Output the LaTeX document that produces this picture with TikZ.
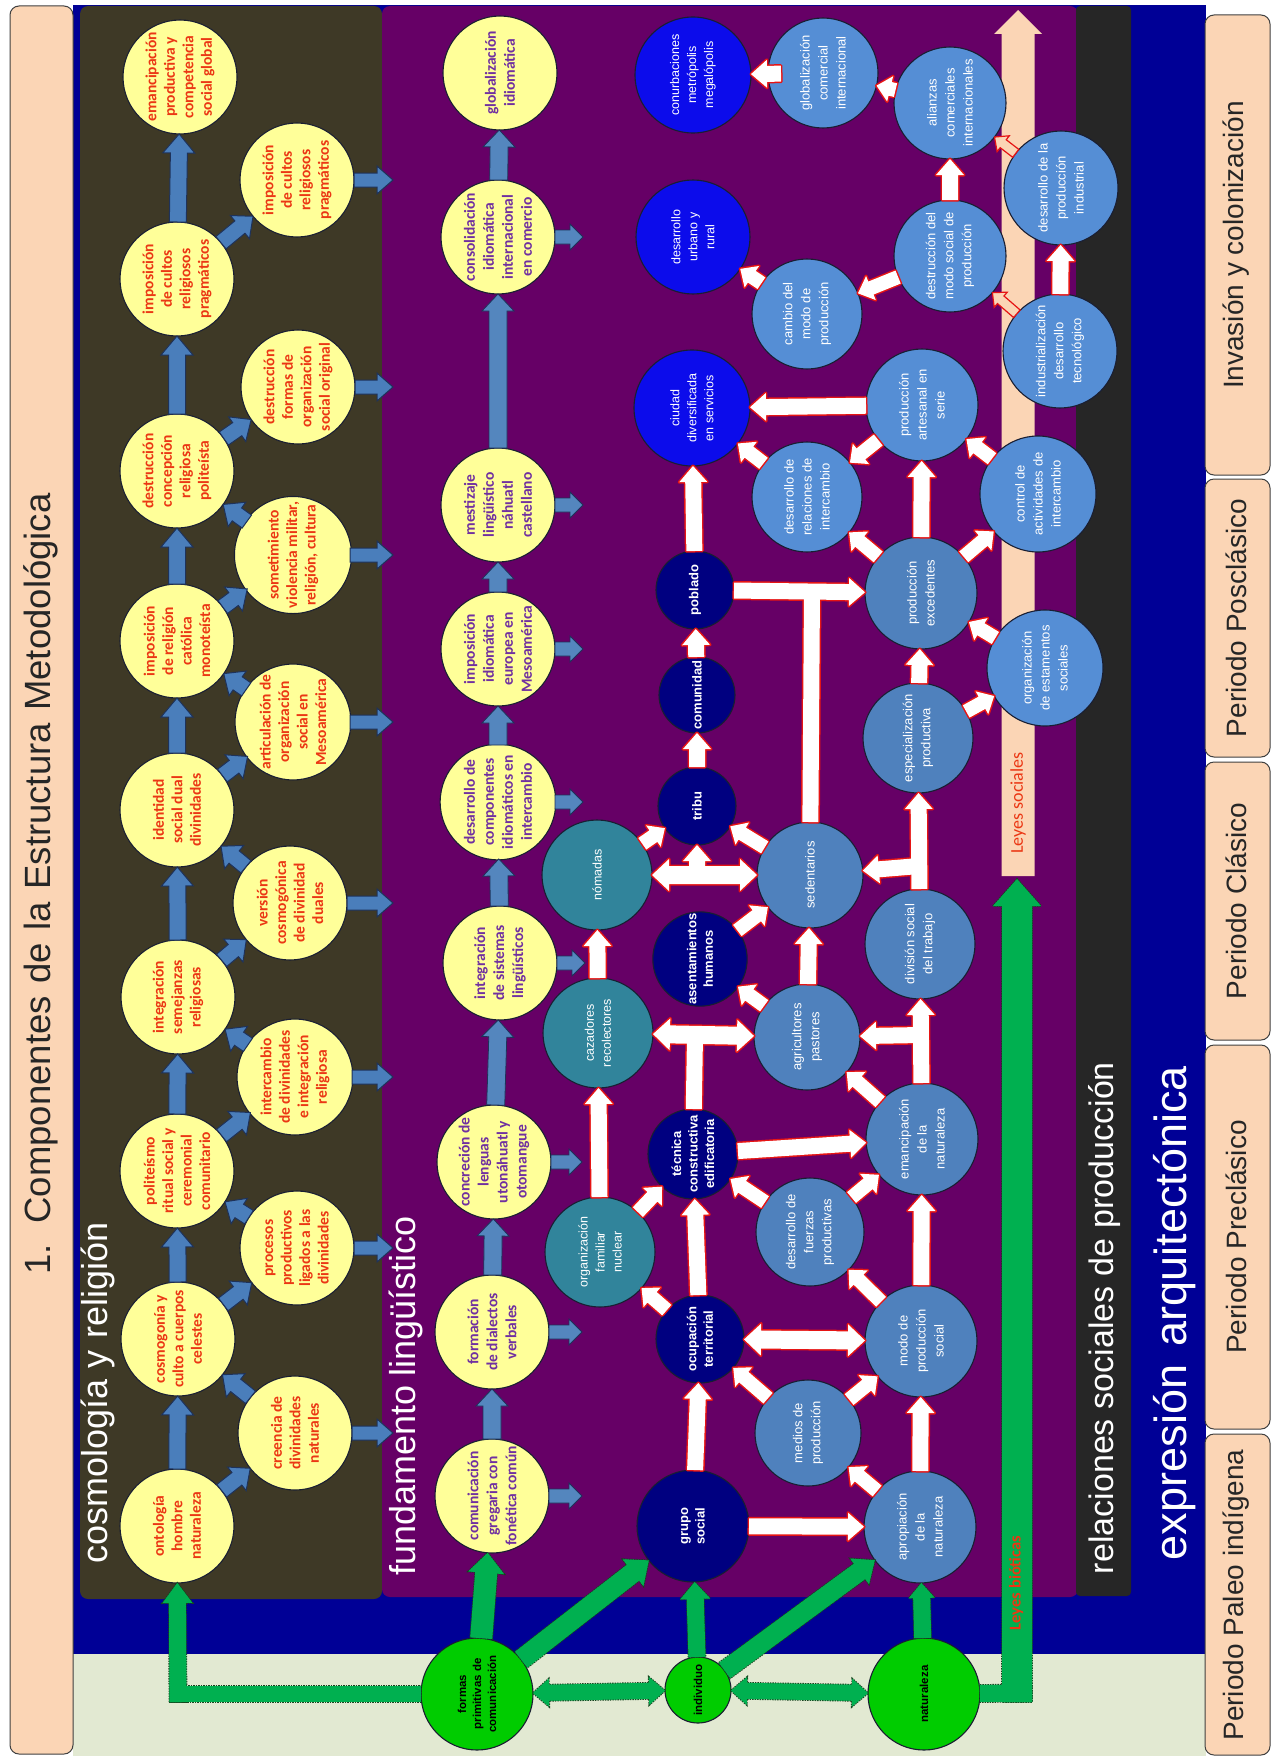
\documentclass[tikz,border=0pt]{standalone}
\usepackage{fontspec}
\setmainfont{Carlito}
\newfontfamily\arialf{Liberation Sans}
\usetikzlibrary{calc}
\definecolor{cOlive}{RGB}{62,57,38}
\definecolor{cPurple}{RGB}{102,0,102}
\definecolor{cNavyBg}{RGB}{0,0,150}
\definecolor{cGray}{RGB}{38,38,38}
\definecolor{cLight}{RGB}{226,233,210}
\definecolor{cPeach}{RGB}{251,213,181}
\definecolor{cYel}{RGB}{255,255,153}
\definecolor{cRedT}{RGB}{235,55,20}
\definecolor{cPurT}{RGB}{112,48,160}
\definecolor{cTeal}{RGB}{49,132,155}
\definecolor{cNavyC}{RGB}{0,0,128}
\definecolor{cBright}{RGB}{12,12,235}
\definecolor{cSteelA}{RGB}{79,129,189}
\definecolor{cSteelB}{RGB}{85,142,213}
\definecolor{cGreenC}{RGB}{0,204,0}
\definecolor{cGreenA}{RGB}{0,176,80}
\definecolor{cGreenD}{RGB}{20,70,30}
\definecolor{cBlueA}{RGB}{74,126,187}
\definecolor{cBlueD}{RGB}{30,50,90}
\definecolor{cLingA}{RGB}{84,134,190}
\definecolor{cWRed}{RGB}{230,20,20}
\definecolor{cOut}{RGB}{25,30,50}

\newcommand\SZ[3]{\def\BW{#1}\def\HW{#2}\def\HL{#3}}
\newcommand\blk[3][]{%
 \coordinate (ba) at #2; \coordinate (bb) at #3;
 \coordinate (bq) at ($(bb)!\HL pt!(ba)$);
 \path[#1] ($(ba)!\BW pt!90:(bb)$) -- ($(bq)!\BW pt!90:(bb)$) -- ($(bq)!\HW pt!90:(bb)$) -- (bb) -- ($(bq)!\HW pt!-90:(bb)$) -- ($(bq)!\BW pt!-90:(bb)$) -- ($(ba)!\BW pt!-90:(bb)$) -- cycle;}
\newcommand\blkd[3][]{%
 \coordinate (ba) at #2; \coordinate (bb) at #3;
 \coordinate (bq) at ($(bb)!\HL pt!(ba)$);
 \coordinate (bp) at ($(ba)!\HL pt!(bb)$);
 \path[#1] (ba) -- ($(bp)!\HW pt!90:(bb)$) -- ($(bp)!\BW pt!90:(bb)$) -- ($(bq)!\BW pt!90:(bb)$) -- ($(bq)!\HW pt!90:(bb)$) -- (bb) -- ($(bq)!\HW pt!-90:(bb)$) -- ($(bq)!\BW pt!-90:(bb)$) -- ($(bp)!\BW pt!-90:(bb)$) -- ($(bp)!\HW pt!-90:(bb)$) -- cycle;}
\newcommand\stem[3][]{%
 \coordinate (ba) at #2; \coordinate (bb) at #3;
 \path[#1] ($(ba)!\BW pt!90:(bb)$) -- ($(bb)!\BW pt!-90:(ba)$) -- ($(bb)!\BW pt!90:(ba)$) -- ($(ba)!\BW pt!-90:(bb)$) -- cycle;}
\newcommand\arr[3][]{\edef\rA{\csname R@#2\endcsname}\edef\rB{\csname R@#3\endcsname}%
 \blk[#1]{($(#2)!\rA pt!(#3)$)}{($(#3)!\rB pt!(#2)$)}}
\newcommand\arrd[3][]{\edef\rA{\csname R@#2\endcsname}\edef\rB{\csname R@#3\endcsname}%
 \blkd[#1]{($(#2)!\rA pt!(#3)$)}{($(#3)!\rB pt!(#2)$)}}
\newcommand\stub[3][]{\edef\rA{\csname R@#2\endcsname}%
 \blk[#1]{($(#2)!\rA pt!(#3)$)}{(#3)}}
\newcommand\circnode[6]{\expandafter\gdef\csname R@#1\endcsname{#4}%
 \node[#5, minimum size=#4pt*2] (#1) at (#2,#3) {#6};}

\tikzset{
 circ/.style={circle, inner sep=0pt, rotate=90, align=center, draw=cOut, line width=1.1pt},
 yc/.style={circ, fill=cYel, text=cRedT, font=\bfseries\fontsize{15.5}{18.5}\selectfont},
 yl/.style={circ, fill=cYel, text=cPurT, font=\bfseries\fontsize{15.5}{19}\selectfont},
 nv/.style={circ, fill=cNavyC, text=white, font=\arialf\bfseries\fontsize{13}{16.5}\selectfont},
 tl/.style={circ, fill=cTeal, text=white, font=\arialf\fontsize{12.5}{17}\selectfont},
 bb/.style={circ, fill=cBright, text=white, font=\arialf\fontsize{12.5}{17}\selectfont},
 sa/.style={circ, fill=cSteelA, text=white, font=\arialf\fontsize{13}{18}\selectfont},
 sb/.style={circ, fill=cSteelB, text=white, font=\arialf\fontsize{13}{18}\selectfont},
 gc/.style={circ, fill=cGreenC, text=black, font=\arialf\bfseries\fontsize{11.5}{15}\selectfont},
 bl/.style={fill=cBlueA, draw=cBlueD, line width=1pt},
 blg/.style={fill=cLingA, draw=cBlueD, line width=0.8pt},
 wout/.style={fill=cWRed, draw=cWRed, line width=3pt, line join=round},
 win/.style={fill=white},
 gout/.style={fill=cGreenA, draw=cGreenD, line width=1.8pt, dash pattern=on 1.5pt off 1pt},
 gin/.style={fill=cGreenA},
 lbl/.style={rotate=90, inner sep=0pt},
 pbox/.style={fill=cPeach, draw=black!75, line width=1pt, rounded corners=9pt},
}

\newcommand\whites[1]{%
\SZ{8}{14}{16}%
\arr[#1]{grupo}{ocupacion}%
\arr[#1]{ocupacion}{tecnica}%
\arr[#1]{orgfam}{cazadores}%
\arr[#1]{cazadores}{nomadas}%
\arr[#1]{agric}{sedent}%
\arr[#1]{tribu}{comunidad}%
\arr[#1]{comunidad}{poblado}%
\arr[#1]{poblado}{ciudad}%
\arr[#1]{apropia}{modo}%
\arr[#1]{modo}{emancip}%
\arr[#1]{emancip}{division}%
\arr[#1]{division}{especial}%
\arr[#1]{especial}{excedentes}%
\arr[#1]{excedentes}{artesanal}%
\arr[#1]{destruccion}{alianzas}%
\arr[#1]{industrializ}{desind}%
\arr[#1]{grupo}{apropia}%
\arr[#1]{tecnica}{emancip}%
\arr[#1]{artesanal}{ciudad}%
\arr[#1]{poblado}{excedentes}%
\blk[#1]{($(globcom)!42pt!(conurb)$)}{($(conurb)!58pt!(globcom)$)}%
\blk[#1]{(t2)}{($(tribu)!39pt!(t2)$)}%
\blk[#1]{(t4)}{($(agric)!53pt!(t4)$)}%
\blk[#1]{(t5)}{($(sedent)!53pt!(t5)$)}%
\stem[#1]{($(tecnica)!45pt!(t1)$)}{(t1)}%
\stem[#1]{($(sedent)!53pt!(t3)$)}{(t3)}%
\SZ{9}{16}{17}%
\arrd[#1]{ocupacion}{modo}%
\arrd[#1]{cazadores}{agric}%
\arrd[#1]{nomadas}{sedent}%
\SZ{7}{13}{14}%
\arr[#1]{ocupacion}{orgfam}%
\arr[#1]{medios}{ocupacion}%
\arr[#1]{medios}{modo}%
\arr[#1]{apropia}{medios}%
\arr[#1]{modo}{fuerzas}%
\arr[#1]{fuerzas}{tecnica}%
\arr[#1]{fuerzas}{emancip}%
\arr[#1]{orgfam}{tecnica}%
\arr[#1]{nomadas}{tribu}%
\arr[#1]{sedent}{tribu}%
\arr[#1]{agric}{asent}%
\arr[#1]{asent}{sedent}%
\arr[#1]{emancip}{agric}%
\arr[#1]{especial}{organiz}%
\arr[#1]{organiz}{excedentes}%
\arr[#1]{excedentes}{desrel}%
\arr[#1]{excedentes}{control}%
\arr[#1]{control}{artesanal}%
\arr[#1]{artesanal}{desrel}%
\arr[#1]{desrel}{ciudad}%
\arr[#1]{destruccion}{cambio}%
\arr[#1]{cambio}{urbano}%
\arr[#1]{alianzas}{globcom}%
}

\newcommand\greens[1]{%
\SZ{11}{18}{20}\arr[#1]{formas}{l1}%
\SZ{10}{17}{20}\arr[#1]{formas}{grupo}%
\SZ{8.5}{15}{17}\arr[#1]{individuo}{grupo}%
\SZ{9.5}{16}{19}\arr[#1]{individuo}{apropia}%
\SZ{8.5}{13}{15}\arr[#1]{naturaleza}{apropia}%
\SZ{8}{14}{16}\arrd[#1]{individuo}{formas}\arrd[#1]{individuo}{naturaleza}%
\SZ{8}{14}{16}\stem[#1]{($(formas)!56pt!(gL1)$)}{(gL1)}%
\SZ{8.5}{15}{20}\blk[#1]{(gL2)}{($(c1)!57pt!(gL2)$)}%
\SZ{8.5}{1}{1}\stem[#1]{($(naturaleza)!56pt!(gL3)$)}{(gL3)}%
\SZ{15}{24}{27}\blk[#1]{(gL4)}{(gL5)}%
}

\begin{document}
\begin{tikzpicture}[x=1pt,y=-1pt]
\useasboundingbox (0,0) rectangle (1272,1758);
\fill[white] (0,0) rectangle (1272,1758);
% background bands
\fill[cLight] (73,1600) rectangle (1206,1756);
\fill[cNavyBg] (73,5) rectangle (1206,1654);
\fill[cOlive, rounded corners=8pt] (80,6) rectangle (382,1599);
\fill[cPurple, rounded corners=8pt] (382,6) rectangle (1078,1597);
\fill[cGray, rounded corners=4pt] (1076,6) rectangle (1131,1596);
% title and period boxes
\draw[pbox] (10,6) rectangle (73,1754);
\draw[pbox] (1205,15) rectangle (1270,475);
\draw[pbox] (1205,479) rectangle (1270,757);
\draw[pbox] (1205,762) rectangle (1270,1040);
\draw[pbox] (1205,1045) rectangle (1270,1429);
\draw[pbox] (1205,1434) rectangle (1270,1755);
\node[lbl, text=black!85, font=\arialf\fontsize{36.5}{36.5}\selectfont] (title) at (41,884) {\makebox[781pt][s]{1. Componentes de la Estructura Metodológica}};
\node[lbl, text=black!85, font=\arialf\fontsize{28}{28}\selectfont] (p1) at (1236,245) {Invasión y colonización};
\node[lbl, text=black!85, font=\arialf\fontsize{28}{28}\selectfont] (p2) at (1236,618) {Periodo Posclásico};
\node[lbl, text=black!85, font=\arialf\fontsize{28}{28}\selectfont] (p3) at (1236,901) {Periodo Clásico};
\node[lbl, text=black!85, font=\arialf\fontsize{28}{28}\selectfont] (p4) at (1236,1237) {Periodo Preclásico};
\node[lbl, text=black!85, font=\arialf\fontsize{28}{28}\selectfont] (p5) at (1236,1595) {Periodo Paleo indígena};
\node[lbl, text=white, font=\arialf\fontsize{36}{36}\selectfont] (lcos) at (98,1393) {\makebox[341pt][s]{cosmología y religión}};
\node[lbl, text=white, font=\arialf\fontsize{36}{36}\selectfont] (lfun) at (406,1396) {\makebox[359pt][s]{fundamento lingüístico}};
\node[lbl, text=white, font=\arialf\fontsize{34}{34}\selectfont] (lrel) at (1104,1318) {\makebox[512pt][s]{relaciones sociales de producción}};
\node[lbl, text=white, font=\arialf\fontsize{45}{45}\selectfont] (lexp) at (1175,1313) {\makebox[494pt][s]{expresión arquitectónica}};
% Leyes sociales bar
\coordinate (ls1) at (1018,876); \coordinate (ls2) at (1018,10);
\SZ{16.5}{24}{24}\blk[fill=cPeach]{(ls1)}{(ls2)}
\node[lbl, text=cRedT, font=\fontsize{18}{18}\selectfont] (tls) at (1018,803) {Leyes sociales};

% cosmology circles
\circnode{c1}{177}{1526}{57}{yc}{ontología\\hombre\\naturaleza}
\circnode{c2}{178}{1339}{57}{yc}{cosmogonía y\\culto a cuerpos\\celestes}
\circnode{c3}{177}{1171}{57}{yc}{politeísmo\\ritual social y\\ceremonial\\comunitario}
\circnode{c4}{178}{997}{57}{yc}{integración\\semejanzas\\religiosas}
\circnode{c5}{177}{810}{57}{yc}{identidad\\social dual\\divinidades}
\circnode{c6}{177}{641}{57}{yc}{imposición\\de religión\\católica\\monoteísta}
\circnode{c7}{177}{471}{57}{yc}{destrucción\\concepción\\religiosa\\politeísta}
\circnode{c8}{177}{279}{57}{yc}{imposición\\de cultos\\religiosos\\pragmáticos}
\circnode{c9}{180}{77}{57}{yc}{emancipación\\productiva y\\competencia\\social global}
\circnode{d1}{295}{1433}{57}{yc}{creencia de\\divinidades\\naturales}
\circnode{d2}{297}{1248}{57}{yc}{procesos\\productivos\\ligados a las\\divinidades}
\circnode{d3}{295}{1077}{57}{yc}{intercambio\\de divinidades\\e integración\\religiosa}
\circnode{d4}{290}{903}{57}{yc}{versión\\cosmogónica\\de divinidad\\duales}
\circnode{d5}{293}{722}{57}{yc}{articulación de\\organización\\social en\\Mesoamérica}
\circnode{d6}{293}{555}{57}{yc}{sometimiento\\violencia militar,\\religión, cultura}
\circnode{d7}{298}{387}{57}{yc}{destrucción\\formas de\\organización\\social original}
\circnode{d8}{297}{180}{57}{yc}{imposición\\de cultos\\religiosos\\pragmáticos}
% linguistic circles
\circnode{l1}{492}{1496}{57}{yl}{comunicación\\gregaria con\\fonética común}
\circnode{l2}{492}{1332}{57}{yl}{formación\\de dialectos\\verbales}
\circnode{l3}{494}{1162}{57}{yl}{concreción de\\lenguas\\utonáhuatl y\\otomangue}
\circnode{l4}{500}{963}{57}{yl}{integración\\de sistemas\\lingüísticos}
\circnode{l5}{498}{802}{57}{yl}{desarrollo de\\componentes\\idiomáticos en\\intercambio}
\circnode{l6}{498}{649}{57}{yl}{imposición\\idiomática\\europea en\\Mesoamérica}
\circnode{l7}{498}{505}{57}{yl}{mestizaje\\lingüístico\\náhuatl\\castellano}
\circnode{l8}{498}{237}{57}{yl}{consolidación\\idiomática\\internacional\\en comercio}
\circnode{l9}{500}{73}{57}{yl}{globalización\\idiomática}
% relations circles
\circnode{grupo}{693}{1526}{56}{nv}{grupo\\social}
\circnode{ocupacion}{700}{1339}{44}{nv}{ocupación\\territorial}
\circnode{tecnica}{693}{1154}{45}{nv}{técnica\\constructiva\\edificatoria}
\circnode{asent}{700}{959}{47}{nv}{asentamientos\\humanos}
\circnode{tribu}{697}{806}{39}{nv}{tribu}
\circnode{comunidad}{697}{695}{38}{nv}{comunidad}
\circnode{poblado}{695}{590}{39}{nv}{poblado}
\circnode{orgfam}{600}{1252}{55}{tl}{organización\\familiar\\nuclear}
\circnode{cazadores}{598}{1033}{55}{tl}{cazadores\\recolectores}
\circnode{nomadas}{597}{875}{55}{tl}{nómadas}
\circnode{ciudad}{692}{408}{58}{bb}{ciudad\\diversificada\\en servicios}
\circnode{urbano}{693}{237}{57}{bb}{desarrollo\\urbano y\\rural}
\circnode{conurb}{693}{75}{58}{bb}{conurbaciones\\metrópolis\\megalópolis}
\circnode{medios}{808}{1433}{53}{sa}{medios de\\producción}
\circnode{fuerzas}{810}{1232}{54}{sa}{desarrollo de\\fuerzas\\productivas}
\circnode{agric}{807}{1037}{53}{sa}{agricultores\\pastores}
\circnode{sedent}{810}{875}{53}{sa}{sedentarios}
\circnode{apropia}{920}{1527}{56}{sa}{apropiación\\de la\\naturaleza}
\circnode{modo}{921}{1341}{56}{sa}{modo de\\producción\\social}
\circnode{emancip}{922}{1139}{56}{sa}{emancipación\\de la\\naturaleza}
\circnode{division}{920}{944}{55}{sa}{división social\\del trabajo}
\circnode{especial}{918}{738}{55}{sa}{especialización\\productiva}
\circnode{excedentes}{921}{593}{56}{sa}{producción\\excedentes}
\circnode{desrel}{807}{497}{55}{sb}{desarrollo de\\relaciones de\\intercambio}
\circnode{cambio}{807}{314}{55}{sb}{cambio del\\modo de\\producción}
\circnode{globcom}{823}{73}{55}{sb}{globalización\\comercial\\internacional}
\circnode{artesanal}{922}{405}{56}{sb}{producción\\artesanal en\\serie}
\circnode{destruccion}{950}{256}{56}{sb}{destrucción del\\modo social de\\producción}
\circnode{alianzas}{950}{103}{56}{sb}{alianzas\\comerciales\\internacionales}
\circnode{organiz}{1045}{668}{58}{sb}{organización\\de estamentos\\sociales}
\circnode{control}{1038}{494}{58}{sb}{control de\\actividades de\\intercambio}
\circnode{industrializ}{1060}{351}{57}{sb}{industrialización\\desarrollo\\tecnológico}
\circnode{desind}{1061}{188}{57}{sb}{desarrollo de la\\producción\\industrial}
\circnode{formas}{477}{1694}{56}{gc}{formas\\primitivas de\\comunicación}
\circnode{individuo}{698}{1690}{33}{gc}{individuo}
\circnode{naturaleza}{924}{1694}{56}{gc}{naturaleza}

% cosmology arrows
\SZ{8.5}{16}{19}
\arr[bl]{c1}{c2}\arr[bl]{c2}{c3}\arr[bl]{c3}{c4}\arr[bl]{c4}{c5}
\arr[bl]{c5}{c6}\arr[bl]{c6}{c7}\arr[bl]{c7}{c8}\arr[bl]{c8}{c9}
\SZ{8}{15}{17}
\arr[bl]{c1}{d1}\arr[bl]{d1}{c2}\arr[bl]{c2}{d2}\arr[bl]{d2}{c3}
\arr[bl]{c3}{d3}\arr[bl]{d3}{c4}\arr[bl]{c4}{d4}\arr[bl]{d4}{c5}
\arr[bl]{c5}{d5}\arr[bl]{d5}{c6}\arr[bl]{c6}{d6}\arr[bl]{d6}{c7}
\arr[bl]{c7}{d7}\arr[bl]{c8}{d8}
\coordinate (s1) at (393,1433); \coordinate (s2) at (393,1248);
\coordinate (s3) at (393,1077); \coordinate (s4) at (393,903);
\coordinate (s5) at (393,722); \coordinate (s6) at (393,555);
\coordinate (s7) at (393,387); \coordinate (s8) at (393,180);
\SZ{7}{14}{16}
\stub[bl]{d1}{s1}\stub[bl]{d2}{s2}\stub[bl]{d3}{s3}\stub[bl]{d4}{s4}
\stub[bl]{d5}{s5}\stub[bl]{d6}{s6}\stub[bl]{d7}{s7}\stub[bl]{d8}{s8}
% linguistic arrows
\SZ{9}{16}{17}
\arr[blg]{l1}{l2}\arr[blg]{l2}{l3}\arr[blg]{l3}{l4}\arr[blg]{l4}{l5}
\arr[blg]{l5}{l6}\arr[blg]{l6}{l7}\arr[blg]{l7}{l8}\arr[blg]{l8}{l9}
\coordinate (u1) at (582,1496); \coordinate (u2) at (582,1332);
\coordinate (u3) at (582,1162); \coordinate (u4) at (585,963);
\coordinate (u5) at (583,802); \coordinate (u6) at (583,649);
\coordinate (u7) at (583,505); \coordinate (u8) at (583,237);
\SZ{7}{13}{13}
\stub[blg]{l1}{u1}\stub[blg]{l2}{u2}\stub[blg]{l3}{u3}\stub[blg]{l4}{u4}
\stub[blg]{l5}{u5}\stub[blg]{l6}{u6}\stub[blg]{l7}{u7}\stub[blg]{l8}{u8}
% relation arrows (two passes)
\coordinate (t1) at (695,1036); \coordinate (t2) at (697,876);
\coordinate (t3) at (812,591); \coordinate (t4) at (921,1035);
\coordinate (t5) at (919,866);
\whites{wout}
\whites{win}
\SZ{5}{10}{11}
\arr[draw=cWRed, fill=cPeach, line width=1.2pt]{industrializ}{destruccion}
\arr[draw=cWRed, fill=cPeach, line width=1.2pt]{desind}{alianzas}
% green arrows (two passes)
\coordinate (gL1) at (170,1694); \coordinate (gL2) at (178,1702);
\coordinate (gL3) at (1032,1693); \coordinate (gL4) at (1017,1702);
\coordinate (gL5) at (1017,879);
\greens{gout}
\greens{gin}
\node[lbl, text=cRedT, font=\bfseries\fontsize{16.5}{16.5}\selectfont] (tlb) at (1016,1583) {Leyes bióticas};
\end{tikzpicture}
\end{document}
